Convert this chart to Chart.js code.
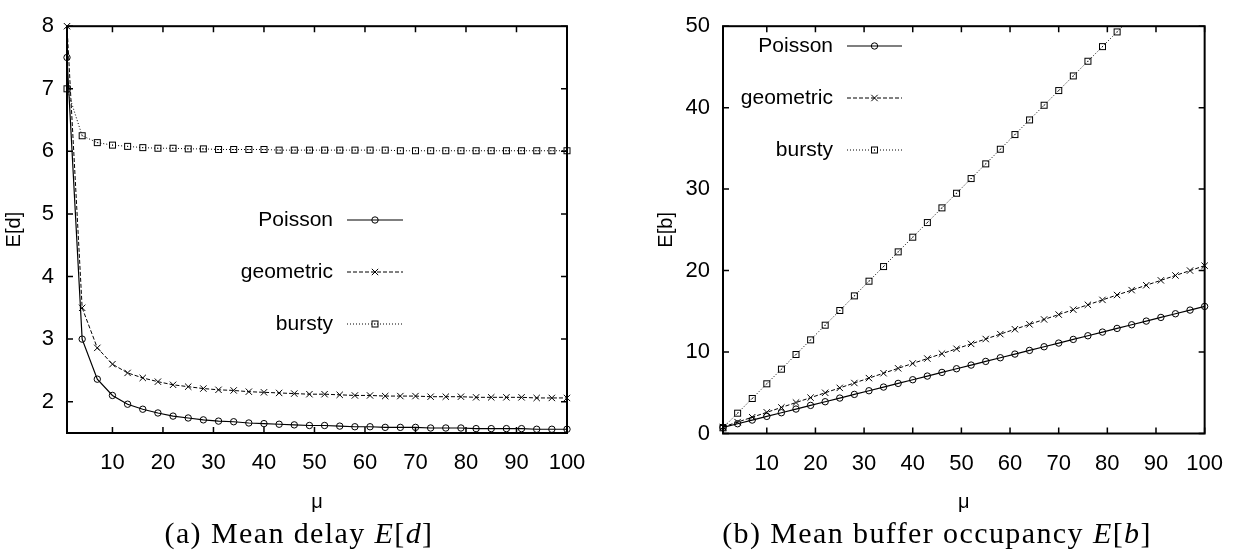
<!DOCTYPE html>
<html>
<head>
<meta charset="utf-8">
<script src="https://cdn.jsdelivr.net/npm/chart.js@4"></script>
<style>
html, body { margin: 0; padding: 0; background: #fff; }
#wrap { position: relative; width: 1240px; height: 559px; overflow: hidden; }
canvas { position: absolute; top: 0; }
#c1 { left: 0; }
#c2 { left: 620px; }
.cap { position: absolute; top: 518px; font: 30px "Liberation Serif", "Times New Roman", serif; letter-spacing: 1.4px;
       line-height: 30px; white-space: nowrap; transform: translateX(-50%); color: #000; }
</style>
</head>
<body>
<div id="wrap">
  <canvas id="c1" width="620" height="559"></canvas>
  <canvas id="c2" width="620" height="559"></canvas>
  <div class="cap" style="left:299px">(a) Mean delay <i>E</i>[<i>d</i>]</div>
  <div class="cap" style="left:937px">(b) Mean buffer occupancy <i>E</i>[<i>b</i>]</div>
</div>
<script>
"use strict";

// --- data ------------------------------------------------------------------ #
const MU = [1, 4, 7, 10, 13, 16, 19, 22, 25, 28, 31, 34, 37, 40, 43, 46, 49, 52, 55, 58,
            61, 64, 67, 70, 73, 76, 79, 82, 85, 88, 91, 94, 97, 100];

const DELAY_POISSON = [7.50, 3.00, 2.36, 2.10, 1.96, 1.88, 1.82, 1.77, 1.74, 1.71, 1.69, 1.68, 1.66, 1.65,
                       1.64, 1.63, 1.62, 1.62, 1.61, 1.60, 1.60, 1.59, 1.59, 1.59, 1.58, 1.58, 1.58, 1.57,
                       1.57, 1.57, 1.57, 1.56, 1.56, 1.56];
const DELAY_GEOMETRIC = [8.00, 3.50, 2.86, 2.60, 2.46, 2.38, 2.32, 2.27, 2.24, 2.21, 2.19, 2.18, 2.16, 2.15,
                         2.14, 2.13, 2.12, 2.12, 2.11, 2.10, 2.10, 2.09, 2.09, 2.09, 2.08, 2.08, 2.08, 2.07,
                         2.07, 2.07, 2.07, 2.06, 2.06, 2.06];
const DELAY_BURSTY = [7.00, 6.25, 6.14, 6.10, 6.08, 6.06, 6.05, 6.05, 6.04, 6.04, 6.03, 6.03, 6.03, 6.03,
                      6.02, 6.02, 6.02, 6.02, 6.02, 6.02, 6.02, 6.02, 6.01, 6.01, 6.01, 6.01, 6.01, 6.01,
                      6.01, 6.01, 6.01, 6.01, 6.01, 6.01];

const BUF_POISSON = [0.75, 1.2, 1.65, 2.1, 2.55, 3.0, 3.45, 3.9, 4.35, 4.8, 5.25, 5.7, 6.15, 6.6, 7.05, 7.5,
                     7.95, 8.4, 8.85, 9.3, 9.75, 10.2, 10.65, 11.1, 11.55, 12.0, 12.45, 12.9, 13.35, 13.8,
                     14.25, 14.7, 15.15, 15.6];
const BUF_GEOMETRIC = [0.8, 1.4, 2.0, 2.6, 3.2, 3.8, 4.4, 5.0, 5.6, 6.2, 6.8, 7.4, 8.0, 8.6, 9.2, 9.8, 10.4,
                       11.0, 11.6, 12.2, 12.8, 13.4, 14.0, 14.6, 15.2, 15.8, 16.4, 17.0, 17.6, 18.2, 18.8,
                       19.4, 20.0, 20.6];
const BUF_BURSTY = [0.7, 2.5, 4.3, 6.1, 7.9, 9.7, 11.5, 13.3, 15.1, 16.9, 18.7, 20.5, 22.3, 24.1, 25.9, 27.7,
                    29.5, 31.3, 33.1, 34.9, 36.7, 38.5, 40.3, 42.1, 43.9, 45.7, 47.5, 49.3, 51.1, 52.9, 54.7,
                    56.5, 58.3, 60.1];

const SERIES_NAMES = ["Poisson", "geometric", "bursty"];
const X_TICKS = [10, 20, 30, 40, 50, 60, 70, 80, 90, 100];
const DELAY_TICKS = [2, 3, 4, 5, 6, 7, 8];
const BUF_TICKS = [0, 10, 20, 30, 40, 50];

// --- look ------------------------------------------------------------------ #
const SANS = "'Liberation Sans', Arial, Helvetica, sans-serif";
Chart.defaults.font.family = SANS;
Chart.defaults.color = "#000";

// gnuplot-style box with a dot in the middle
function boxDot() {
  const c = document.createElement("canvas");
  c.width = c.height = 9;
  const g = c.getContext("2d");
  g.strokeStyle = "#000"; g.lineWidth = 1;
  g.strokeRect(1.5, 1.5, 6, 6);
  g.fillStyle = "#000"; g.fillRect(4, 4, 1, 1);
  return c;
}
const STYLE = [
  { dash: [], width: 1.2, point: "circle", r: 3.2 },
  { dash: [4, 2], width: 1, point: "crossRot", r: 4.5 },
  { dash: [1, 2], width: 1, point: boxDot(), r: 4 },
];

const pts = ys => MU.map((m, i) => ({ x: m, y: ys[i] }));

// frame + inward mirrored tics
const gnuFrame = {
  id: "gnuFrame",
  afterDraw(chart, args, o) {
    const { ctx, chartArea: a, scales: { x, y } } = chart;
    ctx.save();
    ctx.strokeStyle = "#000";
    ctx.lineWidth = 1.5;
    ctx.beginPath();
    o.xTicks.forEach(v => {
      const p = x.getPixelForValue(v);
      ctx.moveTo(p, a.bottom); ctx.lineTo(p, a.bottom - 6);
      ctx.moveTo(p, a.top); ctx.lineTo(p, a.top + 6);
    });
    o.yTicks.forEach(v => {
      const p = y.getPixelForValue(v);
      ctx.moveTo(a.left, p); ctx.lineTo(a.left + 6, p);
      ctx.moveTo(a.right, p); ctx.lineTo(a.right - 6, p);
    });
    ctx.stroke();
    ctx.lineWidth = 2;
    ctx.strokeRect(a.left, a.top, a.right - a.left, a.bottom - a.top);
    ctx.restore();
  }
};

// key placed inside the plot, text right-aligned, sample to the right
const gnuLegend = {
  id: "gnuLegend",
  afterDatasetsDraw(chart, args, o) {
    const ctx = chart.ctx;
    ctx.save();
    ctx.font = "21px " + SANS;
    ctx.textAlign = "right";
    ctx.textBaseline = "middle";
    chart.data.datasets.forEach((ds, i) => {
      const y = o.rows[i];
      ctx.fillStyle = "#000";
      ctx.fillText(ds.label, o.textRight, y);
      ctx.strokeStyle = "#000";
      ctx.lineWidth = ds.borderWidth;
      ctx.setLineDash(ds.borderDash);
      ctx.beginPath(); ctx.moveTo(o.x0, y); ctx.lineTo(o.x1, y); ctx.stroke();
      ctx.setLineDash([]);
      ctx.lineWidth = 1;
      ctx.fillStyle = "rgba(0,0,0,0)";
      Chart.helpers.drawPoint(ctx, { pointStyle: ds.pointStyle, radius: ds.pointRadius, borderWidth: 1, rotation: 0 }, (o.x0 + o.x1) / 2, y);
    });
    ctx.restore();
  }
};

function makeChart(id, o) {
  return new Chart(document.getElementById(id), {
    type: "line",
    data: {
      datasets: o.series.map((ys, i) => ({
        label: SERIES_NAMES[i], data: pts(ys),
        borderColor: "#000", borderWidth: STYLE[i].width, borderDash: STYLE[i].dash,
        pointStyle: STYLE[i].point, pointRadius: STYLE[i].r, pointBorderWidth: 1,
        pointBorderColor: "#000", pointBackgroundColor: "rgba(0,0,0,0)",
        tension: 0, clip: o.clip,
      }))
    },
    options: {
      responsive: false, animation: false, events: [],
      layout: { padding: o.pad },
      plugins: {
        legend: { display: false }, tooltip: { enabled: false },
        gnuLegend: o.legend,
        gnuFrame: { xTicks: X_TICKS, yTicks: o.yTicks },
      },
      scales: {
        x: {
          type: "linear", min: 1, max: 100,
          afterBuildTicks: s => { s.ticks = X_TICKS.map(v => ({ value: v })); },
          afterFit: s => { s.height = 559 - o.bottom; },
          grid: { display: false, drawTicks: false }, border: { display: false },
          ticks: { font: { size: 22 }, padding: 17, maxRotation: 0, autoSkip: false },
          title: { display: true, text: "μ", font: { size: 20 }, padding: { top: 0, bottom: 45 } },
        },
        y: {
          type: "linear", min: o.yMin, max: o.yMax,
          afterBuildTicks: s => { s.ticks = o.yTicks.map(v => ({ value: v })); },
          afterFit: s => { s.width = o.left; },
          grid: { display: false, drawTicks: false }, border: { display: false },
          ticks: { font: { size: 22 }, padding: 13 },
          title: { display: true, text: o.yTitle, font: { size: 20 }, padding: { top: o.titlePad, bottom: 0 } },
        }
      }
    },
    plugins: [gnuFrame, gnuLegend]
  });
}

makeChart("c1", {
  series: [DELAY_POISSON, DELAY_GEOMETRIC, DELAY_BURSTY],
  yMin: 1.5, yMax: 8, yTicks: DELAY_TICKS, yTitle: "E[d]", titlePad: 2,
  left: 67, bottom: 433, pad: { top: 14, right: 53, left: 0, bottom: 0 },
  clip: false,
  legend: { textRight: 333, x0: 347, x1: 403, rows: [220, 272, 324] },
});

makeChart("c2", {
  series: [BUF_POISSON, BUF_GEOMETRIC, BUF_BURSTY],
  yMin: 0, yMax: 50, yTicks: BUF_TICKS, yTitle: "E[b]", titlePad: 34,
  left: 103, bottom: 433.5, pad: { top: 15, right: 31, left: 0, bottom: 0 },
  clip: { left: 10, top: 0, right: 10, bottom: 10 },
  legend: { textRight: 213, x0: 227, x1: 282, rows: [46, 98, 150] },
});
</script>
</body>
</html>
